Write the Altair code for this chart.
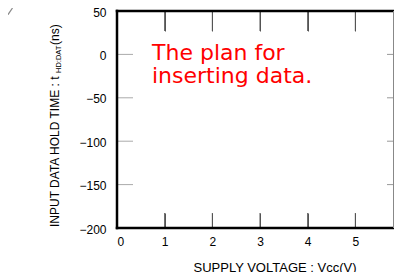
import altair as alt
import pandas as pd

# ---- data ----
x_tick_values = [0, 1, 2, 3, 4, 5, 6]
y_tick_values = [50, 0, -50, -100, -150, -200]
x_inner_ticks = [1, 2, 3, 4, 5]
y_inner_ticks = [0, -50, -100, -150]
x_domain = [0, 6]
y_domain = [-200, 50]
note_lines = ["The plan for", "inserting data."]
x_title = "SUPPLY VOLTAGE : Vcc(V)"
y_title_main = "INPUT DATA HOLD TIME : t"
y_title_sub = "HD:DAT"
y_title_unit = "(ns)"

W, H = 286, 217          # full plot box; the window cuts its right edge
VIS = 277                # last visible x pixel inside the window
FONT = "Liberation Sans"

xs = alt.Scale(domain=x_domain, nice=False, zero=False)
ys = alt.Scale(domain=y_domain, nice=False, zero=False)

xl_df = pd.DataFrame({"xv": x_tick_values})
xt_df = pd.DataFrame({"xv": x_inner_ticks})
yt_df = pd.DataFrame({"yv": y_inner_ticks})
one = pd.DataFrame({"k": [0]})

# bottom axis: labels only
x_axis_labels = alt.Axis(values=x_tick_values, ticks=False, domain=False, grid=False,
                         labelFont=FONT, labelFontSize=12, labelColor="black",
                         labelPadding=8, title=None, format="d", orient="bottom")
# inward ticks hanging from the top edge (a bottom axis moved up onto the top edge)
x_axis_top_ticks = alt.Axis(values=x_inner_ticks, ticks=True, tickSize=20,
                            tickColor="#555555", tickWidth=1, labels=False,
                            domain=False, grid=False, title=None,
                            orient="bottom", offset=-H)
# inward ticks rising from the bottom edge (a top axis moved down onto the bottom edge)
x_axis_bottom_ticks = alt.Axis(values=x_inner_ticks, ticks=True, tickSize=15,
                               tickColor="#555555", tickWidth=1, labels=False,
                               domain=False, grid=False, title=None,
                               orient="top", offset=-H)
y_axis = alt.Axis(values=y_tick_values, ticks=False, domain=False, grid=False,
                  labelFont=FONT, labelFontSize=12, labelColor="black",
                  labelPadding=11, labelOffset=1, title=None, format="d")

x_labels = alt.Chart(xl_df).mark_point(opacity=0).encode(
    x=alt.X("xv:Q", scale=xs, axis=x_axis_labels),
    y=alt.value(0))

top_ticks = alt.Chart(xt_df).mark_rule(color="#555555", strokeWidth=1).encode(
    x=alt.X("xv:Q", scale=xs, axis=x_axis_top_ticks),
    y=alt.value(0), y2=alt.value(20))

bottom_ticks = alt.Chart(xt_df).mark_rule(color="#555555", strokeWidth=1).encode(
    x=alt.X("xv:Q", scale=xs, axis=x_axis_bottom_ticks),
    y=alt.value(H), y2=alt.value(H - 15))

left_ticks = alt.Chart(yt_df).mark_rule(color="#aaaaaa", strokeWidth=1).encode(
    y=alt.Y("yv:Q", scale=ys, axis=y_axis),
    x=alt.value(0), x2=alt.value(16))

right_ticks = alt.Chart(yt_df).mark_rule(color="#999999", strokeWidth=1).encode(
    y=alt.Y("yv:Q", scale=ys),
    x=alt.value(VIS - 7), x2=alt.value(VIS))

# frame of the plot box (its right side is cut by the window)
frame_top = alt.Chart(one).mark_rule(color="black", strokeWidth=2.5).encode(
    x=alt.value(-1.25), x2=alt.value(W), y=alt.value(0))
frame_bottom = alt.Chart(one).mark_rule(color="black", strokeWidth=2.5).encode(
    x=alt.value(-1.25), x2=alt.value(W), y=alt.value(H))
frame_left = alt.Chart(one).mark_rule(color="black", strokeWidth=2.5).encode(
    x=alt.value(0), y=alt.value(-1.25), y2=alt.value(H + 1.25))
frame_right = alt.Chart(one).mark_rule(color="#888888", strokeWidth=1).encode(
    x=alt.value(VIS - 0.5), y=alt.value(0), y2=alt.value(H))

note = alt.Chart(one).mark_text(
    color="#ff0000", font="DejaVu Sans", fontSize=22, align="left",
    baseline="alphabetic", lineHeight=23).encode(
    x=alt.value(35), y=alt.value(48.5), text=alt.value(note_lines))

yt1 = alt.Chart(one).mark_text(
    font=FONT, fontSize=12, angle=270, align="left", baseline="alphabetic",
    color="black").encode(x=alt.value(-58), y=alt.value(216), text=alt.value(y_title_main))
yt2 = alt.Chart(one).mark_text(
    font=FONT, fontSize=7.5, angle=270, align="left", baseline="alphabetic",
    color="black").encode(x=alt.value(-56), y=alt.value(62), text=alt.value(y_title_sub))
yt3 = alt.Chart(one).mark_text(
    font=FONT, fontSize=12, angle=270, align="left", baseline="alphabetic",
    color="black").encode(x=alt.value(-58), y=alt.value(34), text=alt.value(y_title_unit))

xt = alt.Chart(one).mark_text(
    font=FONT, fontSize=13, align="center", baseline="alphabetic",
    color="black").encode(x=alt.value(158), y=alt.value(260.5), text=alt.value(x_title))

corner = alt.Chart(one).mark_rule(color="#888888", strokeWidth=1.2).encode(
    x=alt.value(-109), x2=alt.value(-104.5), y=alt.value(3.7), y2=alt.value(-3))

chart = alt.layer(
    x_labels, top_ticks, bottom_ticks, left_ticks, right_ticks,
    frame_top, frame_bottom, frame_left, frame_right,
    note, yt1, yt2, yt3, xt, corner
).resolve_axis(
    x="independent"
).properties(
    width=W, height=H,
    autosize=alt.AutoSizeParams(type="none"),
    padding={"left": 109, "top": 3, "right": VIS - W, "bottom": 44},
).configure(
    background="white",
    view=alt.ViewConfig(stroke=None),
)

chart.save("out.html", embed_options={"renderer": "svg", "actions": False})
